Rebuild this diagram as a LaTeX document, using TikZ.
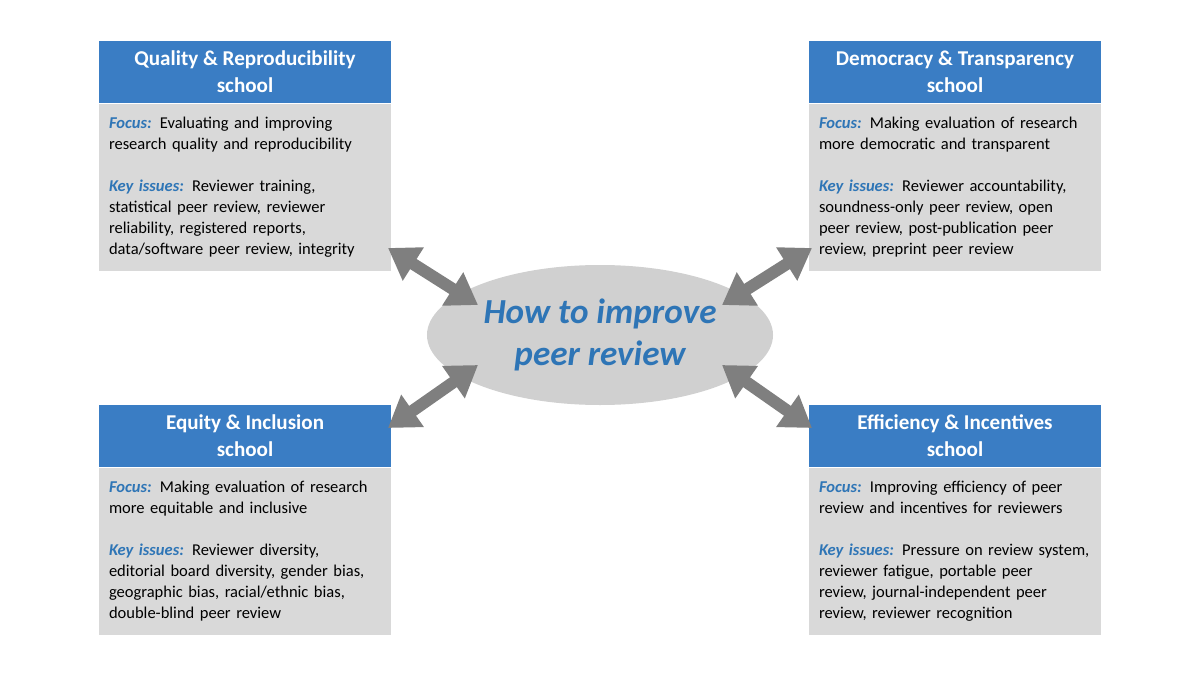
\documentclass[tikz,border=0pt]{standalone}
\usepackage{fontspec}
\setmainfont{Carlito}
\usetikzlibrary{arrows.meta,positioning,shapes.geometric}
\definecolor{hdblue}{HTML}{3A7DC4}
\definecolor{lblue}{HTML}{2E75B6}
\definecolor{bodygrey}{HTML}{D9D9D9}
\definecolor{hubgrey}{HTML}{D0D0D0}
\definecolor{arrgrey}{HTML}{7F7F7F}
\tikzset{
    header/.style={fill=hdblue, text=white, minimum width=5.84cm, minimum height=1.24cm,
        inner sep=0pt, align=center, font=\fontsize{12}{15.5}\selectfont\bfseries},
    schoolbody/.style={fill=bodygrey, text width=5.44cm, minimum height=3.34cm,
        inner xsep=0.2cm, inner ysep=0.1cm, align=left, anchor=north,
        font=\fontsize{9.4}{12}\selectfont},
    hub/.style={ellipse, fill=hubgrey, minimum width=6.76cm, minimum height=2.8cm,
        align=center, text=lblue, font=\fontsize{20}{24}\selectfont\bfseries\itshape},
    bigarrow/.style={draw=arrgrey, line width=0.24cm,
        {Triangle[length=0.6cm,width=0.75cm]}-{Triangle[length=0.6cm,width=0.75cm]}},
}
\newcommand{\lbl}[1]{{\color{lblue}\bfseries\itshape #1}}
\begin{document}
\begin{tikzpicture}
    \useasboundingbox (0,0) rectangle (24,13.5);
    % schools
    \node[header] (qh) at (4.9,12.06) {Quality \& Reproducibility\\school};
    \node[schoolbody] (qb) at (qh.south) {\lbl{Focus:} Evaluating and improving\\research quality and reproducibility\\[0.42cm]
        \lbl{Key issues:} Reviewer training,\\statistical peer review, reviewer\\reliability, registered reports,\\data/software peer review, integrity};
    \node[header] (dh) at (19.1,12.06) {Democracy \& Transparency\\school};
    \node[schoolbody] (db) at (dh.south) {\lbl{Focus:} Making evaluation of research\\more democratic and transparent\\[0.42cm]
        \lbl{Key issues:} Reviewer accountability,\\soundness-only peer review, open\\peer review, post-publication peer\\review, preprint peer review};
    \node[header] (eh) at (4.9,4.78) {Equity \& Inclusion\\school};
    \node[schoolbody] (eb) at (eh.south) {\lbl{Focus:} Making evaluation of research\\more equitable and inclusive\\[0.42cm]
        \lbl{Key issues:} Reviewer diversity,\\editorial board diversity, gender bias,\\geographic bias, racial/ethnic bias,\\double-blind peer review};
    \node[header] (fh) at (19.1,4.78) {Efficiency \& Incentives\\school};
    \node[schoolbody] (fb) at (fh.south) {\lbl{Focus:} Improving efficiency of peer\\review and incentives for reviewers\\[0.42cm]
        \lbl{Key issues:} Pressure on review system,\\reviewer fatigue, portable peer\\review, journal-independent peer\\review, reviewer recognition};
    % centre
    \node[hub] (hub) at (12,6.8) {How to improve\\peer review};
    %
    \coordinate (qa) at (7.76,8.54);
    \coordinate (da) at (16.24,8.54);
    \coordinate (ea) at (7.76,4.94);
    \coordinate (fa) at (16.24,4.94);
    \coordinate (hq) at (9.56,7.4);
    \coordinate (hd) at (14.44,7.4);
    \coordinate (he) at (9.56,6.2);
    \coordinate (hf) at (14.44,6.2);
    \draw[bigarrow] (qa) -- (hq);
    \draw[bigarrow] (da) -- (hd);
    \draw[bigarrow] (ea) -- (he);
    \draw[bigarrow] (fa) -- (hf);
\end{tikzpicture}
\end{document}
